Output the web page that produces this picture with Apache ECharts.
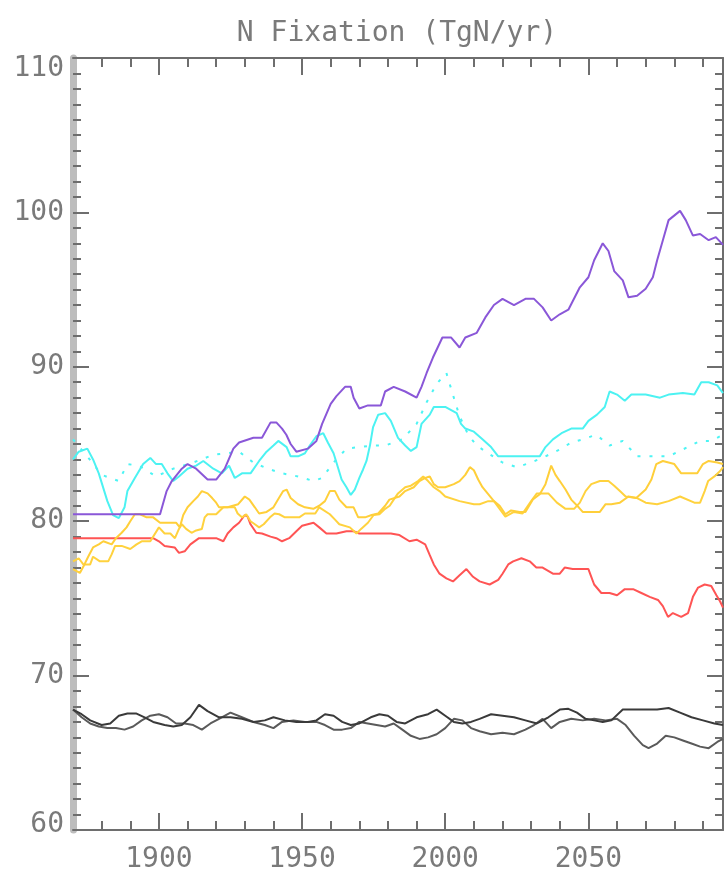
<!DOCTYPE html>
<html>
<head>
<meta charset="utf-8">
<script src="https://cdn.jsdelivr.net/npm/echarts@6/dist/echarts.min.js"></script>
<style>
html,body{margin:0;padding:0;background:#fff;}
#chart{width:727px;height:875px;}
</style>
</head>
<body>
<div id="chart"></div>
<script>
const titleText = 'N Fixation (TgN/yr)';
const xMajorTicks = [1900, 1950, 2000, 2050];
const xMinorTicks = [1880,1890,1910,1920,1930,1940,1960,1970,1980,1990,2010,2020,2030,2040,2060,2070,2080,2090];

const purple = [[1870,80.45],[1880,80.45],[1890,80.45],[1900.4,80.45],[1902.7,81.95],[1904.5,82.6],[1908,83.4],[1910,83.7],[1913,83.4],[1917,82.7],[1920,82.7],[1923,83.4],[1926,84.7],[1928,85.1],[1933,85.4],[1936,85.4],[1939,86.4],[1941,86.4],[1943,86.0],[1944.5,85.6],[1946,85.0],[1948,84.5],[1952,84.7],[1955,85.2],[1957,86.3],[1960,87.6],[1962,88.1],[1965,88.7],[1967,88.7],[1968,88.0],[1970,87.3],[1973,87.5],[1977.5,87.5],[1979,88.4],[1982,88.7],[1986,88.4],[1990,88.0],[1991.7,88.7],[1993.5,89.6],[1995.7,90.6],[1999,91.9],[2002,91.9],[2005,91.25],[2007,91.9],[2011,92.2],[2014,93.2],[2017,94.0],[2020,94.4],[2024,94.0],[2028,94.4],[2031,94.4],[2034,93.85],[2037,93.0],[2040,93.4],[2043,93.7],[2047,95.15],[2050,95.8],[2052,96.9],[2055,98.0],[2057,97.5],[2059,96.2],[2062,95.6],[2064,94.5],[2067,94.6],[2070,95.05],[2072.5,95.8],[2074,96.9],[2076,98.2],[2078,99.5],[2082,100.1],[2084,99.5],[2086.5,98.5],[2089,98.6],[2092,98.2],[2094.5,98.4],[2097,97.9]];

const cyanSolid = [[1870,84.0],[1872,84.5],[1875,84.7],[1877,84.0],[1879,83.1],[1880,82.5],[1882,81.3],[1884,80.4],[1886,80.2],[1888,80.9],[1889,81.95],[1891.6,82.8],[1894.5,83.7],[1897,84.1],[1899,83.7],[1901,83.7],[1903,83.1],[1905,82.6],[1907,82.9],[1910,83.4],[1913,83.6],[1915.5,83.9],[1919,83.4],[1922,83.1],[1924.5,83.6],[1926.5,82.8],[1929,83.1],[1932,83.1],[1935,83.9],[1937.6,84.5],[1940,84.9],[1941.7,85.2],[1944.6,84.8],[1946,84.2],[1948.6,84.2],[1951,84.4],[1952.7,84.9],[1955,85.5],[1957.4,85.7],[1959,85.1],[1961,84.4],[1962,83.8],[1963.8,82.7],[1965.5,82.2],[1967,81.7],[1968.4,82.05],[1970,82.8],[1971.3,83.35],[1972.5,83.9],[1973.7,84.9],[1974.8,86.1],[1976.6,86.9],[1979,87.0],[1981,86.5],[1983.5,85.4],[1986,84.9],[1988,84.55],[1990,84.8],[1991.7,86.3],[1994.6,86.9],[1996,87.4],[2000,87.4],[2004,87.0],[2005.5,86.3],[2007,86.0],[2010,85.8],[2013,85.3],[2016,84.8],[2018.5,84.2],[2024,84.2],[2033,84.2],[2035,84.8],[2037.6,85.3],[2040.6,85.7],[2044,86.0],[2048,86.0],[2050,86.5],[2053,86.9],[2055.7,87.4],[2057.4,88.4],[2060,88.2],[2062.7,87.8],[2065,88.2],[2070,88.2],[2075,88.0],[2078,88.2],[2083,88.3],[2087,88.2],[2089.4,89.0],[2092,89.0],[2095,88.8],[2097,88.3]];

const cyanDotted = [[1870,85.3],[1875,84.2],[1880,83.0],[1886,82.6],[1889,83.7],[1893,83.6],[1899,82.9],[1905,83.4],[1912,83.8],[1919,84.3],[1923.6,84.4],[1928,84.5],[1933,83.8],[1938,83.4],[1943,83.1],[1948.6,82.9],[1954,82.6],[1957,82.8],[1961,83.8],[1965.5,84.7],[1970,84.8],[1975,84.9],[1979,84.9],[1985,85.3],[1990,86.3],[1993.5,87.7],[1997,88.9],[2000.4,89.6],[2002.5,88.3],[2005,86.8],[2008,85.6],[2011,84.9],[2015,84.4],[2020,83.8],[2025,83.5],[2030,83.8],[2035,84.2],[2040.6,84.7],[2044,85.1],[2048,85.3],[2052.7,85.6],[2057.4,84.9],[2062,85.2],[2067,84.2],[2072,84.2],[2078,84.2],[2084.7,84.8],[2089,85.2],[2093,85.2],[2097,85.6]];

const yellowA = [[1870,76.9],[1872.4,76.65],[1874,77.2],[1875.3,77.7],[1877,78.3],[1879,78.5],[1880.6,78.7],[1883.5,78.5],[1885,78.9],[1887,79.25],[1888.7,79.6],[1890,80.0],[1891.6,80.45],[1893.4,80.45],[1895.7,80.25],[1898,80.25],[1900.4,79.9],[1904,79.9],[1906,79.9],[1907.3,79.6],[1908.5,80.4],[1910,80.9],[1912,81.3],[1913.6,81.6],[1915,81.95],[1917,81.8],[1918.6,81.5],[1920,81.2],[1921,80.9],[1924,80.9],[1927.7,81.1],[1930,81.6],[1931.6,81.4],[1933.5,80.9],[1935,80.5],[1937.6,80.6],[1940,80.9],[1941.6,81.4],[1943.4,81.95],[1944.6,82.05],[1946,81.5],[1948.6,81.1],[1951,80.9],[1953.9,80.8],[1956,81.0],[1958,81.3],[1959.7,81.95],[1961.5,81.95],[1963,81.4],[1965.5,80.9],[1968,80.9],[1969.6,80.25],[1972,80.25],[1974.3,80.4],[1976.6,80.5],[1979,81.0],[1980.5,81.4],[1984,81.6],[1986,81.95],[1989,82.2],[1991,82.6],[1993,82.8],[1994.6,82.9],[1996,82.4],[1997.5,82.2],[2000,82.2],[2003,82.4],[2005,82.6],[2007,83.0],[2008.6,83.5],[2010,83.3],[2011.5,82.7],[2013,82.2],[2015,81.75],[2017,81.3],[2019,81.0],[2021,80.45],[2023,80.7],[2026,80.6],[2028,80.6],[2030.6,81.4],[2033,81.75],[2035,82.4],[2037,83.6],[2038.5,83.0],[2040,82.6],[2042,82.05],[2044,81.4],[2046.6,80.9],[2048,80.6],[2051.6,80.6],[2054,80.6],[2056,81.1],[2058,81.1],[2061,81.2],[2064,81.6],[2066.7,81.5],[2070,82.05],[2072,82.7],[2073.7,83.7],[2076,83.9],[2078,83.8],[2080,83.7],[2082.4,83.1],[2086,83.1],[2088,83.1],[2090,83.7],[2092,83.9],[2095,83.8],[2097,83.7]];

const yellowB = [[1870,77.4],[1872,77.6],[1873.6,77.2],[1876,77.2],[1877,77.7],[1879.4,77.4],[1882.3,77.4],[1883.5,77.85],[1884.7,78.4],[1887,78.4],[1890,78.2],[1892.2,78.5],[1894,78.7],[1897,78.7],[1900,79.6],[1902,79.2],[1904,79.2],[1905.6,78.9],[1907,79.5],[1908,79.8],[1909.5,79.5],[1911.4,79.25],[1913,79.4],[1915,79.5],[1916,80.25],[1917,80.45],[1920,80.45],[1922.5,80.9],[1926.5,80.9],[1927.5,80.5],[1929,80.25],[1930.5,80.45],[1932,80.0],[1933.5,79.8],[1935,79.6],[1936.6,79.8],[1938.8,80.25],[1940.4,80.5],[1942,80.45],[1944,80.25],[1949,80.25],[1951,80.5],[1954.6,80.5],[1956,80.9],[1959.7,80.45],[1961.5,80.1],[1963,79.8],[1966.7,79.6],[1969,79.2],[1970.6,79.5],[1973,79.9],[1975,80.4],[1977,80.45],[1979,80.8],[1980.6,81.0],[1982,81.4],[1983.5,81.8],[1986,82.2],[1988,82.3],[1990.5,82.6],[1992.3,82.9],[1994,82.6],[1996,82.2],[1998,81.95],[2000,81.6],[2005,81.3],[2010,81.1],[2012,81.1],[2015,81.3],[2017,81.3],[2019,80.8],[2021,80.3],[2024,80.6],[2027,80.5],[2030,81.3],[2032,81.8],[2034,81.8],[2036,81.8],[2039,81.2],[2042,80.8],[2045,80.8],[2047,81.2],[2049,81.95],[2051,82.4],[2054,82.6],[2057,82.6],[2059,82.3],[2061,81.95],[2063,81.6],[2067,81.5],[2070,81.2],[2074,81.1],[2078,81.3],[2082,81.6],[2087,81.2],[2089,81.2],[2090.6,81.95],[2091.8,82.6],[2094,82.9],[2096,83.25],[2097,83.5]];

const red = [[1870,78.9],[1880,78.9],[1890,78.9],[1898,78.9],[1900,78.7],[1902,78.4],[1905.5,78.3],[1907,77.95],[1909,78.05],[1911,78.5],[1914,78.9],[1917,78.9],[1920,78.9],[1922.5,78.7],[1924,79.2],[1926,79.6],[1928,79.9],[1930,80.4],[1931,80.3],[1932,79.8],[1934,79.25],[1936,79.2],[1939,79.0],[1941,78.9],[1943,78.7],[1945.5,78.9],[1948,79.35],[1950,79.7],[1954,79.9],[1956,79.6],[1958.5,79.2],[1962,79.2],[1965.5,79.35],[1968,79.35],[1970,79.2],[1977,79.2],[1981,79.2],[1984,79.1],[1987.5,78.7],[1990,78.8],[1993,78.5],[1994.6,77.8],[1996,77.2],[1998,76.6],[2000.4,76.3],[2002.7,76.1],[2005,76.5],[2007.4,76.9],[2009.7,76.4],[2012,76.1],[2015.5,75.9],[2018.5,76.2],[2020,76.6],[2022,77.2],[2023.7,77.4],[2026.6,77.6],[2029.5,77.4],[2031.8,77.0],[2034,77.0],[2037.6,76.6],[2040,76.6],[2041.7,77.0],[2044.5,76.9],[2047.5,76.9],[2050,76.9],[2051,76.4],[2052,75.9],[2054.5,75.35],[2057.4,75.35],[2060,75.2],[2062.7,75.6],[2065.6,75.6],[2068.5,75.35],[2071.4,75.1],[2074.3,74.9],[2076,74.5],[2077.8,73.8],[2079.5,74.05],[2082.4,73.8],[2084.8,74.05],[2086.5,75.1],[2088.3,75.7],[2090.6,75.9],[2092.9,75.8],[2094.7,75.2],[2096,74.8],[2097,74.4]];

const blackA = [[1870,67.8],[1873,67.5],[1876,67.1],[1880,66.8],[1883,66.9],[1886,67.4],[1889,67.55],[1892,67.55],[1895,67.3],[1898,67.0],[1902,66.8],[1905,66.7],[1908,66.8],[1911,67.3],[1914,68.1],[1917,67.7],[1921,67.3],[1925,67.3],[1929,67.2],[1933,67.0],[1937,67.1],[1940,67.3],[1944,67.1],[1948,67.0],[1952,67.0],[1955,67.1],[1958,67.5],[1961,67.4],[1964,67.0],[1967,66.8],[1970,66.9],[1974,67.3],[1977,67.5],[1980,67.4],[1983,67.0],[1986,66.9],[1990,67.3],[1994,67.5],[1997,67.8],[2000,67.4],[2003,67.0],[2006,66.9],[2009,67.0],[2012,67.2],[2016,67.5],[2020,67.4],[2024,67.3],[2028,67.1],[2032,66.9],[2036,67.3],[2040,67.8],[2043,67.85],[2046,67.6],[2049,67.2],[2052,67.1],[2055,67.0],[2058,67.1],[2062,67.8],[2066,67.8],[2070,67.8],[2074,67.8],[2078,67.9],[2082,67.6],[2086,67.3],[2090,67.1],[2094,66.9],[2097,66.8]];

const blackB = [[1870,67.8],[1873,67.3],[1876,66.9],[1879,66.7],[1882,66.6],[1885,66.6],[1888,66.5],[1891,66.7],[1894,67.1],[1897,67.4],[1900,67.5],[1903,67.3],[1906,66.9],[1909,66.9],[1912,66.8],[1915,66.5],[1918,66.9],[1921,67.2],[1925,67.6],[1929,67.3],[1933,67.0],[1937,66.8],[1940,66.6],[1943,67.0],[1947,67.1],[1951,67.0],[1955,67.0],[1958,66.8],[1961,66.5],[1964,66.5],[1967,66.6],[1970,67.0],[1973,66.9],[1976,66.8],[1979,66.7],[1982,66.9],[1985,66.5],[1988,66.1],[1991,65.9],[1994,66.0],[1997,66.2],[2000,66.6],[2003,67.2],[2006,67.1],[2009,66.6],[2012,66.4],[2016,66.2],[2020,66.3],[2024,66.2],[2028,66.5],[2031,66.8],[2034,67.2],[2037,66.6],[2040,67.0],[2044,67.2],[2048,67.1],[2052,67.2],[2056,67.1],[2060,67.2],[2063,66.8],[2066,66.1],[2069,65.5],[2071,65.3],[2074,65.6],[2077,66.1],[2080,66.0],[2083,65.8],[2086,65.6],[2089,65.4],[2092,65.3],[2095,65.7],[2097,65.9]];

const FONT = 'DejaVu Sans Mono';
const AX = '#6e6e6e';
const LBL = '#7a7a7a';
const XMIN = 1870, XMAX = 2097;

function xAxisDef(pos, ticks, len, showLine, showLabels) {
  return {
    type: 'value', position: pos, min: XMIN, max: XMAX, gridIndex: 0,
    axisLine: { show: showLine, onZero: false, lineStyle: { color: AX, width: 2 } },
    axisTick: { show: true, inside: true, length: len, customValues: ticks, lineStyle: { color: AX, width: 2 } },
    axisLabel: showLabels ? { show: true, customValues: xMajorTicks, margin: 16, color: LBL, fontFamily: FONT, fontSize: 28, formatter: v => String(v) } : { show: false },
    splitLine: { show: false }
  };
}

function yAxisDef(pos, lineColor, lineWidth, showLabels) {
  return {
    type: 'value', position: pos, min: 60, max: 110, interval: 10, gridIndex: 0,
    axisLine: { show: true, onZero: false, lineStyle: { color: lineColor, width: lineWidth } },
    axisTick: { show: true, inside: true, length: 16, lineStyle: { color: AX, width: 2 } },
    minorTick: { show: true, splitNumber: 10, length: 8, lineStyle: { color: AX, width: 2 } },
    axisLabel: showLabels ? {
      show: true, margin: 9, color: LBL, fontFamily: FONT, fontSize: 28,
      formatter: v => v === 110 ? '{t|110}' : (v === 60 ? '{b|60}' : String(v)),
      rich: {
        t: { padding: [22, 0, 0, 0], color: LBL, fontFamily: FONT, fontSize: 28 },
        b: { padding: [0, 0, 10, 0], color: LBL, fontFamily: FONT, fontSize: 28 }
      }
    } : { show: false },
    splitLine: { show: false }
  };
}

function lineSeries(data, color, width, type, z) {
  return {
    type: 'line', data: data, xAxisIndex: 0, yAxisIndex: 0,
    showSymbol: false, symbol: 'none', smooth: false, z: z,
    lineStyle: { color: color, width: width, type: type, cap: 'butt' },
    emphasis: { disabled: true }, animation: false
  };
}

const chart = echarts.init(document.getElementById('chart'), null, { renderer: 'canvas' });
chart.setOption({
  animation: false,
  backgroundColor: '#ffffff',
  grid: { left: 73, right: 4, top: 58, bottom: 45, containLabel: false },
  graphic: [{
    type: 'text', x: 397, y: 34,
    style: { text: titleText, fill: LBL, font: '28px "DejaVu Sans Mono"', textAlign: 'center', textVerticalAlign: 'middle' }
  }],
  xAxis: [
    xAxisDef('bottom', xMinorTicks, 9, true, false),
    xAxisDef('bottom', xMajorTicks, 17, false, true),
    xAxisDef('top', xMinorTicks, 9, true, false),
    xAxisDef('top', xMajorTicks, 17, false, false)
  ],
  yAxis: [
    yAxisDef('left', '#bdbdbd', 7, true),
    yAxisDef('right', AX, 2, false)
  ],
  series: [
    lineSeries(blackB, '#5a5a5a', 2, 'solid', 2),
    lineSeries(blackA, '#3a3a3a', 2, 'solid', 2),
    lineSeries(red, '#ff5454', 2, 'solid', 3),
    lineSeries(yellowB, '#ffd23e', 2, 'solid', 4),
    lineSeries(yellowA, '#ffcf3a', 2, 'solid', 4),
    lineSeries(cyanDotted, '#4cf4f4', 2, [3, 9], 5),
    lineSeries(cyanSolid, '#4cf2f2', 2, 'solid', 5),
    lineSeries(purple, '#8a57d8', 2, 'solid', 6)
  ]
});
</script>
</body>
</html>
